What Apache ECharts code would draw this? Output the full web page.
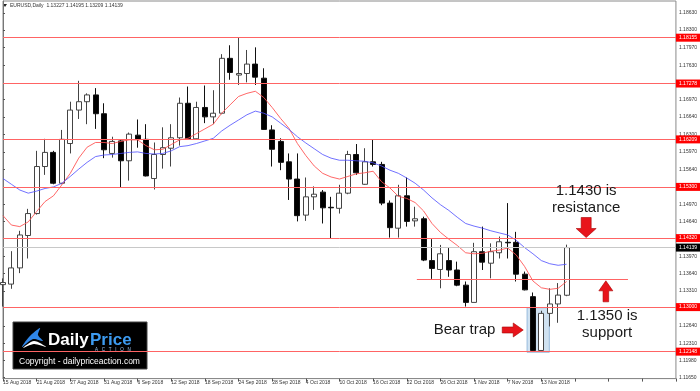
<!DOCTYPE html>
<html>
<head>
<meta charset="utf-8">
<script src="https://cdn.jsdelivr.net/npm/echarts@6/dist/echarts.min.js"></script>
<style>
  html, body { margin: 0; padding: 0; background: #fff; }
  #chart { width: 700px; height: 391px; }
</style>
</head>
<body>
<div id="chart"></div>
<script>
/* EURUSD daily, MT4 style: candles + fast/slow MA + S/R levels */
const dates = [
  '15 Aug 2018','16 Aug 2018','17 Aug 2018','20 Aug 2018','21 Aug 2018','22 Aug 2018','23 Aug 2018','24 Aug 2018',
  '27 Aug 2018','28 Aug 2018','29 Aug 2018','30 Aug 2018','31 Aug 2018','3 Sep 2018','4 Sep 2018','5 Sep 2018',
  '6 Sep 2018','7 Sep 2018','10 Sep 2018','11 Sep 2018','12 Sep 2018','13 Sep 2018','14 Sep 2018','17 Sep 2018',
  '18 Sep 2018','19 Sep 2018','20 Sep 2018','21 Sep 2018','24 Sep 2018','25 Sep 2018','26 Sep 2018','27 Sep 2018',
  '28 Sep 2018','1 Oct 2018','2 Oct 2018','3 Oct 2018','4 Oct 2018','5 Oct 2018','8 Oct 2018','9 Oct 2018',
  '10 Oct 2018','11 Oct 2018','12 Oct 2018','15 Oct 2018','16 Oct 2018','17 Oct 2018','18 Oct 2018','19 Oct 2018',
  '22 Oct 2018','23 Oct 2018','24 Oct 2018','25 Oct 2018','26 Oct 2018','29 Oct 2018','30 Oct 2018','31 Oct 2018',
  '1 Nov 2018','2 Nov 2018','5 Nov 2018','6 Nov 2018','7 Nov 2018','8 Nov 2018','9 Nov 2018','12 Nov 2018',
  '13 Nov 2018','14 Nov 2018','15 Nov 2018','16 Nov 2018'
];
const opens = [
  1.1343,1.1344,1.1375,1.1437,1.1479,1.1569,1.1596,1.1537,1.1613,1.1677,1.1693,1.1706,1.1670,1.1594,1.1618,1.1580,
  1.1629,1.1621,1.1546,1.1592,1.1604,1.1624,1.1690,1.1622,1.1682,1.1664,1.1671,1.1776,1.1744,1.1747,1.1765,1.1738,
  1.1639,1.1617,1.1578,1.1545,1.1476,1.1511,1.1520,1.1491,1.1489,1.1518,1.1592,1.1535,1.1578,1.1573,1.1499,1.1451,
  1.1513,1.1465,1.1469,1.1389,1.1372,1.1389,1.1371,1.1342,1.1309,1.1406,1.1384,1.1404,1.1424,1.1424,1.1363,1.1320,
  1.1217,1.1288,1.1306,1.13227
];
const highs = [
  1.1355,1.1407,1.1446,1.1488,1.1599,1.1622,1.1599,1.1639,1.1693,1.1733,1.1709,1.1719,1.1690,1.1626,1.1620,1.1634,
  1.1659,1.1650,1.1615,1.1644,1.1650,1.1701,1.1722,1.1693,1.1724,1.1715,1.1784,1.1801,1.1815,1.1792,1.1797,1.1757,
  1.1648,1.1623,1.1594,1.1594,1.1548,1.1531,1.1524,1.1511,1.1534,1.1599,1.1612,1.1604,1.1621,1.1578,1.1504,1.1534,
  1.1548,1.1492,1.1473,1.1430,1.1419,1.1413,1.1387,1.1349,1.1423,1.1454,1.1422,1.1435,1.1499,1.1444,1.1368,1.1328,
  1.1293,1.1336,1.1346,1.14195
];
const lows = [
  1.1301,1.1335,1.1365,1.1393,1.1477,1.1553,1.1535,1.1535,1.1594,1.1660,1.1650,1.1641,1.1585,1.1586,1.1529,1.1542,
  1.1605,1.1550,1.1525,1.1565,1.1569,1.1609,1.1620,1.1620,1.1652,1.1650,1.1669,1.1735,1.1725,1.1730,1.1725,1.1639,
  1.1569,1.1562,1.1505,1.1464,1.1465,1.1486,1.1460,1.1432,1.1479,1.1516,1.1553,1.1534,1.1569,1.1495,1.1433,1.1433,
  1.1454,1.1454,1.1388,1.1354,1.1336,1.1358,1.1340,1.1301,1.1309,1.1371,1.1355,1.1393,1.1393,1.1349,1.1332,1.1215,
  1.1215,1.1263,1.1270,1.13209
];
const closes = [
  1.1347,1.1375,1.1438,1.1479,1.1569,1.1596,1.1537,1.1621,1.1677,1.1693,1.1706,1.1670,1.1601,1.1617,1.1580,1.1631,
  1.1621,1.1551,1.1592,1.1605,1.1624,1.1690,1.1622,1.1682,1.1664,1.1671,1.1776,1.1749,1.1747,1.1765,1.1740,1.1640,
  1.1602,1.1577,1.1545,1.1475,1.1511,1.1516,1.1490,1.1490,1.1518,1.1592,1.1557,1.1578,1.1573,1.1499,1.1452,1.1513,
  1.1464,1.1469,1.1390,1.1374,1.1402,1.1371,1.1342,1.1309,1.1406,1.1386,1.1406,1.1425,1.1423,1.1363,1.1333,1.1217,
  1.1288,1.1306,1.1323,1.14139
];
const maFast = [
  1.1475,1.1457,1.1454,1.1463,1.1483,1.1502,1.1513,1.1534,1.1556,1.1585,1.1606,1.1615,1.1615,1.1613,1.1617,1.1620,
  1.1620,1.1609,1.1601,1.1602,1.1611,1.1620,1.1623,1.1632,1.1641,1.1650,1.1671,1.1687,1.1703,1.1709,1.1713,1.1701,
  1.1682,1.1661,1.1642,1.1613,1.1590,1.1570,1.1556,1.1549,1.1545,1.1550,1.1555,1.1557,1.1560,1.1540,1.1528,1.1512,
  1.1508,1.1500,1.1484,1.1460,1.1443,1.1430,1.1418,1.1404,1.1402,1.1403,1.1407,1.1409,1.1413,1.1400,1.1378,1.1350,
  1.1337,1.1334,1.1336,1.1349
];
const maSlow = [
  1.1546,1.1535,1.1524,1.1518,1.1522,1.1527,1.1530,1.1537,1.1550,1.1564,1.1577,1.1588,1.1591,1.1592,1.1594,1.1596,
  1.1597,1.1594,1.1593,1.1594,1.1599,1.1607,1.1609,1.1613,1.1618,1.1623,1.1637,1.1648,1.1658,1.1668,1.1675,1.1671,
  1.1664,1.1652,1.1640,1.1626,1.1614,1.1603,1.1592,1.1585,1.1581,1.1581,1.1580,1.1579,1.1576,1.1570,1.1562,1.1556,
  1.1547,1.1537,1.1524,1.1509,1.1496,1.1485,1.1472,1.1460,1.1455,1.1451,1.1446,1.1442,1.1438,1.1428,1.1414,1.1402,
  1.1389,1.1383,1.1380,1.1382
];
const levels = [1.18155, 1.17278, 1.16209, 1.15300, 1.14320, 1.13000, 1.12148];
const lastPrice = 1.14139;
const yTicks = [1.18630,1.18300,1.17970,1.17630,1.16970,1.16640,1.16300,1.15970,1.15640,1.14970,1.14640,
  1.13970,1.13640,1.13310,1.12640,1.12310,1.11980,1.11650];
const shiftBars = 13;            // empty space right of the last bar
const supportLine = [49.2, 74.3, 1.1354];
const trapBox = [62.3, 64.95, 1.12988, 1.12135];
const header = 'EURUSD,Daily  1.13227 1.14195 1.13209 1.14139';

const FONT = 'Liberation Sans';
const cats = dates.concat(Array.from({ length: shiftBars }, () => ''));
const nSlots = cats.length - 1;
const candles = opens.map((o, i) => [o, closes[i], lows[i], highs[i]]);

const chart = echarts.init(document.getElementById('chart'), null, { renderer: 'canvas' });

const note = (x, y, text) => ({
  coord: [x, y], symbol: 'rect', symbolSize: 1, itemStyle: { color: 'rgba(0,0,0,0)' },
  label: { show: true, position: 'inside', formatter: text, fontFamily: FONT, fontSize: 15, lineHeight: 17, color: '#1a1a1a', align: 'center' }
});
const arrow = (x, y, path, size) => ({
  coord: [x, y], symbol: 'path://' + path, symbolSize: size,
  itemStyle: { color: '#e8141b', borderColor: '#a80000', borderWidth: 0.6 }, label: { show: false }
});

chart.setOption({
  animation: false,
  backgroundColor: '#fff',
  grid: { left: 2, right: 23, top: 1, bottom: 12.4, show: true, borderColor: '#8a8a8a', borderWidth: 1 },
  xAxis: [
    {
      type: 'category', data: cats, boundaryGap: false,
      axisLine: { lineStyle: { color: '#8a8a8a' } },
      axisTick: { interval: 3, length: 3, lineStyle: { color: '#555' } },
      axisLabel: { interval: 3, align: 'left', margin: 2, fontSize: 5, fontFamily: FONT, color: '#333' },
      splitLine: { show: false }
    },
    { type: 'value', min: 0, max: nSlots, show: false }
  ],
  yAxis: {
    type: 'value', position: 'right', min: 1.11632, max: 1.18857, scale: true,
    axisLine: { show: true, lineStyle: { color: '#777' } },
    axisTick: { show: true, length: 2, customValues: yTicks, lineStyle: { color: '#555' } },
    axisLabel: { customValues: yTicks, formatter: v => v.toFixed(5), fontSize: 5, fontFamily: FONT, color: '#333', margin: 3 },
    splitLine: { show: false }
  },
  graphic: [
    { type: 'polygon', shape: { points: [[3, 4], [7, 4], [5, 7]] }, style: { fill: '#222' } },
    { type: 'text', x: 10, y: 3, style: { text: header, fontSize: 5, fontFamily: FONT, fill: '#333' } },
    {
      type: 'group', children: [
        { type: 'rect', shape: { x: 13, y: 322, width: 134, height: 47 }, style: { fill: '#000', stroke: '#444' } },
        { type: 'polygon', shape: { points: [[22, 347], [29, 337], [40, 328], [38, 335], [43, 341], [33, 339]], smooth: 0.3 }, style: { fill: '#2f86e8' } },
        { type: 'polygon', shape: { points: [[23, 348], [34, 341], [46, 347], [34, 344]], smooth: 0.3 }, style: { fill: '#fff' } },
        { type: 'text', x: 48, y: 332, style: { text: 'Daily', fontSize: 17, fontWeight: 'bold', fontFamily: FONT, fill: '#fff' } },
        { type: 'text', x: 90, y: 332, style: { text: 'Price', fontSize: 17, fontWeight: 'bold', fontFamily: FONT, fill: '#3d9bf0' } },
        { type: 'text', x: 95, y: 347, style: { text: 'A   C   T   I   O   N', fontSize: 4.5, fontFamily: FONT, fill: '#9cc4ee' } },
        { type: 'text', x: 19, y: 357, style: { text: 'Copyright - dailypriceaction.com', fontSize: 8.5, fontFamily: FONT, fill: '#fff' } }
      ]
    }
  ],
  series: [
    {
      name: 'levels', type: 'line', data: [], z: 1, silent: true,
      markLine: {
        symbol: 'none', silent: true, animation: false, precision: 5,
        lineStyle: { color: '#ff6464', width: 1, type: 'solid' },
        label: {
          show: true, position: 'end', distance: 0, formatter: p => p.value.toFixed(5),
          backgroundColor: '#ff0000', color: '#fff', fontSize: 5, fontFamily: FONT, padding: [1.5, 3]
        },
        data: levels.map(v => ({ yAxis: v })).concat([{
          yAxis: lastPrice, lineStyle: { color: '#c8c8c8', width: 1 },
          label: { backgroundColor: '#000', color: '#fff' }
        }])
      }
    },
    {
      name: 'EURUSD', type: 'candlestick', data: candles, z: 3, barWidth: 5.5, clip: true,
      itemStyle: { color: '#fff', color0: '#000', borderColor: '#444', borderColor0: '#111', borderWidth: 1 }
    },
    {
      name: 'MA fast', type: 'line', data: maFast, z: 4, symbol: 'none', silent: true,
      lineStyle: { color: '#ff4d4d', width: 1, opacity: 0.85 }
    },
    {
      name: 'MA slow', type: 'line', data: maSlow, z: 4, symbol: 'none', silent: true,
      lineStyle: { color: '#4d4dff', width: 1, opacity: 0.8 }
    },
    {
      name: 'notes', type: 'line', xAxisIndex: 1, data: [], z: 6, silent: true,
      markLine: {
        symbol: 'none', silent: true, precision: 5, label: { show: false },
        lineStyle: { color: '#ff6464', width: 1, type: 'solid' },
        data: [[{ coord: [supportLine[0], supportLine[2]] }, { coord: [supportLine[1], supportLine[2]] }]]
      },
      markArea: {
        silent: true,
        itemStyle: { color: 'rgba(150,190,225,0.45)', borderColor: 'rgba(120,165,210,0.7)', borderWidth: 1 },
        data: [[{ coord: [trapBox[0], trapBox[2]] }, { coord: [trapBox[1], trapBox[3]] }]]
      },
      markPoint: {
        silent: true,
        data: [
          note(69.33, 1.1506, '1.1430 is\nresistance'),
          arrow(69.33, 1.14523, 'M5,0L15,0L15,11L20,11L10,20L0,11L5,11Z', [20, 20]),
          arrow(71.67, 1.13302, 'M0,10L10,0L20,10L14,10L14,21L6,21L6,10Z', [14, 21]),
          note(71.82, 1.12677, '1.1350 is\nsupport'),
          note(54.87, 1.12562, 'Bear trap'),
          arrow(60.6, 1.12562, 'M0,4L11,4L11,0L21,7L11,14L11,10L0,10Z', [21, 14])
        ]
      }
    }
  ]
});
</script>
</body>
</html>
